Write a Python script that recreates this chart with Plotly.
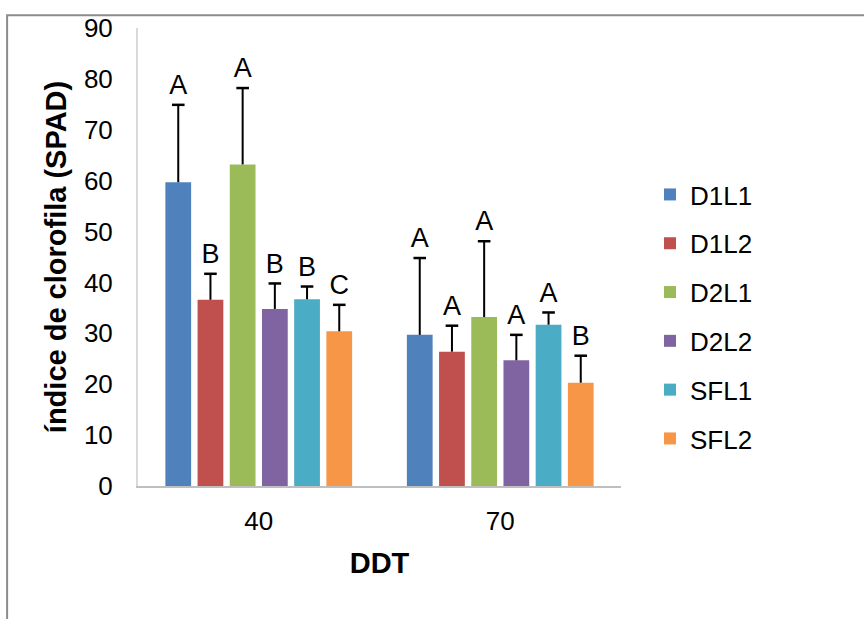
import plotly.graph_objects as go

categories = ["40", "70"]
series = ["D1L1", "D1L2", "D2L1", "D2L2", "SFL1", "SFL2"]
colors = ["#4F81BD", "#C0504D", "#9BBB59", "#8064A2", "#4BACC6", "#F79646"]
values = {
    "D1L1": [59.7, 29.7],
    "D1L2": [36.6, 26.4],
    "D2L1": [63.2, 33.2],
    "D2L2": [34.8, 24.7],
    "SFL1": [36.7, 31.7],
    "SFL2": [30.4, 20.3],
}
errors = {
    "D1L1": [15.2, 15.1],
    "D1L2": [5.1, 5.1],
    "D2L1": [15.0, 14.9],
    "D2L2": [5.0, 5.0],
    "SFL1": [2.5, 2.4],
    "SFL2": [5.2, 5.3],
}
letters = {
    "D1L1": ["A", "A"],
    "D1L2": ["B", "A"],
    "D2L1": ["A", "A"],
    "D2L2": ["B", "A"],
    "SFL1": ["B", "A"],
    "SFL2": ["C", "B"],
}

FONT = "Liberation Sans, Arial, sans-serif"
fig = go.Figure()
for i, s in enumerate(series):
    fig.add_trace(go.Bar(
        x=categories, y=values[s], name=s, offsetgroup=s, legendgroup=s,
        marker=dict(color=colors[i], line=dict(width=0)),
        error_y=dict(type="data", symmetric=False, array=errors[s],
                     arrayminus=[0] * len(categories), color="black",
                     thickness=2, width=0),
    ))
for i, s in enumerate(series):
    tops = [v + e for v, e in zip(values[s], errors[s])]
    # error-bar cap
    fig.add_trace(go.Scatter(
        x=categories, y=tops, mode="markers",
        marker=dict(symbol="line-ew", size=9, color="black",
                    line=dict(color="black", width=2.5)),
        offsetgroup=s, showlegend=False, hoverinfo="skip", cliponaxis=False,
    ))
for i, s in enumerate(series):
    tops = [v + e for v, e in zip(values[s], errors[s])]
    # significance letters
    fig.add_trace(go.Scatter(
        x=categories, y=tops, mode="markers+text", text=letters[s],
        textposition="top center",
        marker=dict(size=5, color="rgba(0,0,0,0)"),
        textfont=dict(family=FONT, size=27, color="black"),
        offsetgroup=s, showlegend=False, hoverinfo="skip", cliponaxis=False,
    ))

fig.update_layout(
    width=864, height=619,
    margin=dict(l=138, r=243, t=28, b=133),
    paper_bgcolor="white", plot_bgcolor="white",
    barmode="group", bargap=0.2, bargroupgap=0.2,
    scattermode="group", scattergap=0.2,
    font=dict(family=FONT, size=26, color="black"),
    legend=dict(x=1.06, y=0.37, xanchor="left", yanchor="middle",
                traceorder="grouped", tracegroupgap=12,
                font=dict(family=FONT, size=26, color="black"),
                itemwidth=30),
    showlegend=True,
    shapes=[dict(type="rect", xref="paper", yref="paper",
                 x0=-0.271, y0=-1, x1=2, y1=1.028,
                 line=dict(color="#8c8c8c", width=2), layer="below")],
)
fig.update_xaxes(
    showline=True, linecolor="#bfbfbf", linewidth=2, ticks="",
    ticklabelstandoff=11,
    tickfont=dict(family=FONT, size=26, color="black"),
    title=dict(text="<b>DDT</b>", font=dict(family=FONT, size=29, color="black"), standoff=17),
)
fig.update_yaxes(
    range=[0, 90], dtick=10, showgrid=False, zeroline=False,
    showline=True, linecolor="#d9d9d9", linewidth=2, ticks="",
    ticklabelstandoff=18,
    tickfont=dict(family=FONT, size=26, color="black"),
    title=dict(text="<b>índice de clorofila (SPAD)</b>",
               font=dict(family=FONT, size=29, color="black"), standoff=9),
)
fig.write_html("out.html")
